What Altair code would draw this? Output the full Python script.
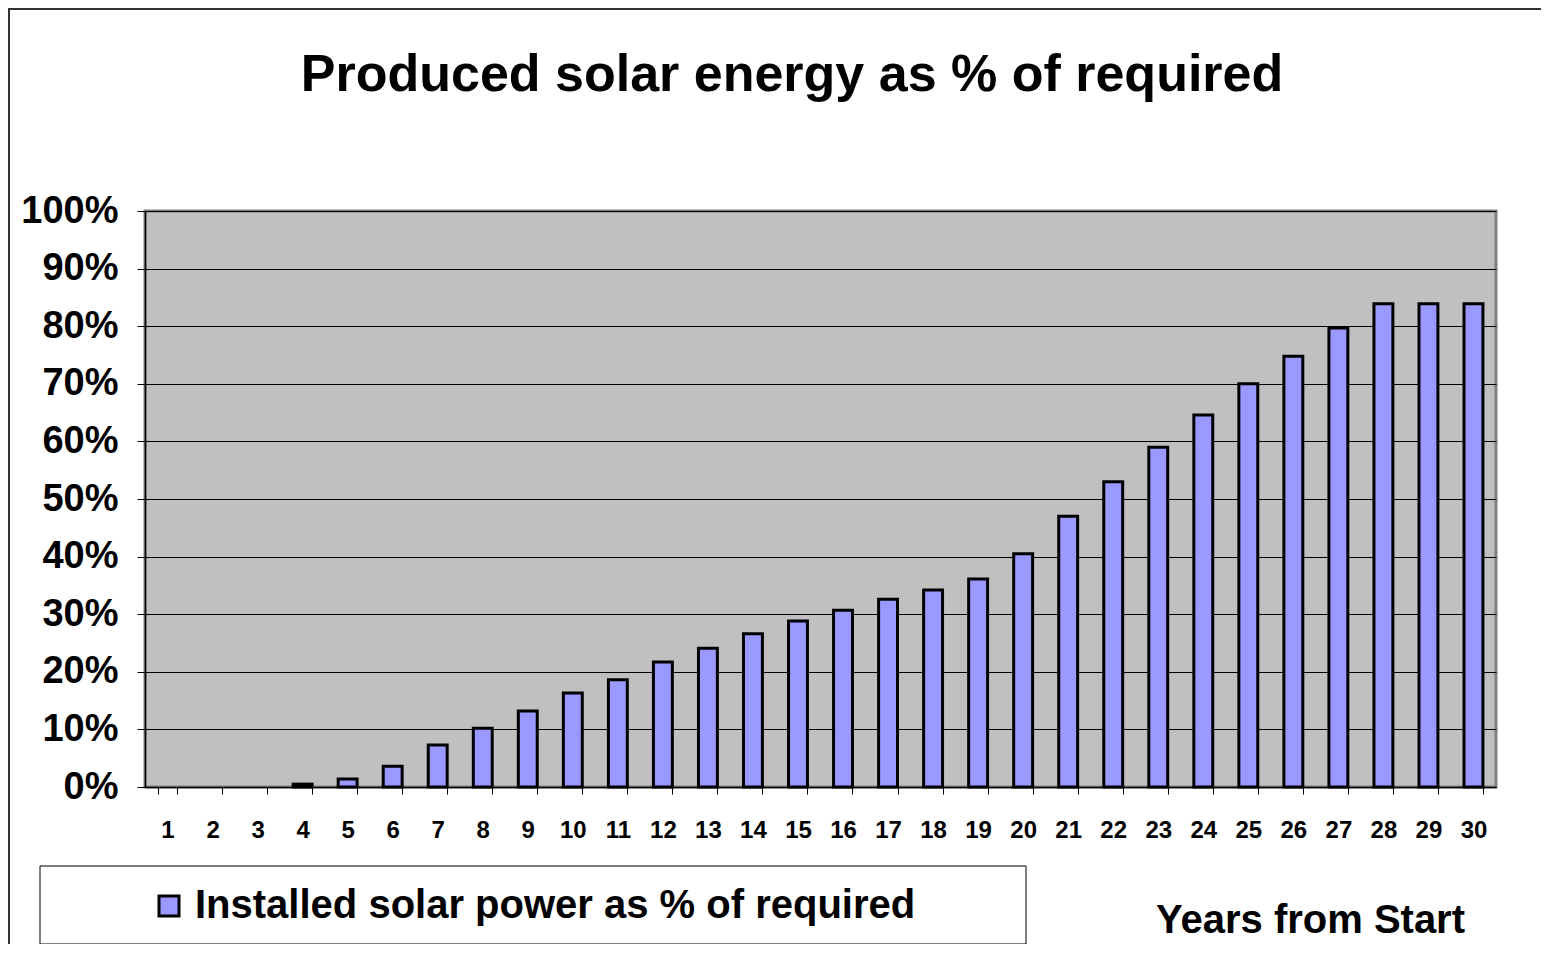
import altair as alt
import pandas as pd

years = list(range(1, 31))
installed_pct = [0.0, 0.0, 0.0, 0.5, 1.4, 3.6, 7.3, 10.2, 13.2, 16.3,
                 18.6, 21.7, 24.1, 26.6, 28.8, 30.7, 32.6, 34.2, 36.1, 40.5,
                 47.0, 53.0, 59.0, 64.6, 70.0, 74.8, 79.7, 83.9, 83.9, 83.9]
series_name = "Installed solar power as % of required"
chart_title = "Produced solar energy as % of required"
y_ticks = [0, 0.1, 0.2, 0.3, 0.4, 0.5, 0.6, 0.7, 0.8, 0.9, 1.0]

df = pd.DataFrame({
    "year": years,
    "value": [v / 100 for v in installed_pct],
    "series": [series_name] * len(years),
})

FONT = "Liberation Sans"
W, H = 1351, 576

bars = alt.Chart(df).mark_bar(strokeWidth=3).encode(
    x=alt.X("year:O",
            scale=alt.Scale(paddingInner=0.58, paddingOuter=0.29),
            axis=alt.Axis(title="Years from Start", labelAngle=0, labelFontSize=24,
                          labelFontWeight="bold", labelColor="black", labelPadding=24,
                          tickBand="extent", tickSize=7, tickColor="black",
                          domainColor="black", domainWidth=1.5, grid=False,
                          titleX=1165, titleY=145, titleAlign="center",
                          titleBaseline="alphabetic", titleFontSize=40,
                          titleFontWeight="bold", titleColor="black")),
    y=alt.Y("value:Q",
            scale=alt.Scale(domain=[0, 1], nice=False),
            axis=alt.Axis(title=None, values=y_ticks, format=".0%", labelFontSize=38,
                          labelFontWeight="bold", labelColor="black", labelPadding=19,
                          tickSize=8, tickColor="black", domainColor="black",
                          domainWidth=1.5, grid=True, gridColor="black", gridWidth=1)),
    stroke=alt.condition(alt.datum.value > 0, alt.value("black"), alt.value("transparent")),
    color=alt.Color("series:N",
                    scale=alt.Scale(range=["#9999FF"]),
                    legend=alt.Legend(title=None, orient="none", legendX=4, legendY=675,
                                      symbolType="square", symbolSize=400,
                                      symbolStrokeColor="black", symbolStrokeWidth=3,
                                      symbolFillColor="#9999FF",
                                      labelFontSize=40, labelFontWeight="bold",
                                      labelColor="black", labelOffset=6, padding=0,
                                      labelLimit=1000)),
)

one = alt.Data(values=[{"k": 1}])

title_text = alt.Chart(one).mark_text(
    text=chart_title, fontSize=52, fontWeight="bold", font=FONT, color="black",
    align="center", baseline="alphabetic"
).encode(x=alt.value(647), y=alt.value(-120))

legend_box = alt.Chart(one).mark_rect(fill="white", stroke="black", strokeWidth=1).encode(
    x=alt.value(-105), x2=alt.value(881), y=alt.value(655), y2=alt.value(733)
)

left_border = alt.Chart(one).mark_rule(color="#333333", strokeWidth=2).encode(
    x=alt.value(-136), y=alt.value(-203), y2=alt.value(740 + 200)
)
top_border = alt.Chart(one).mark_rule(color="#333333", strokeWidth=2).encode(
    x=alt.value(-137), x2=alt.value(W + 60), y=alt.value(-202)
)

chart = alt.layer(legend_box, bars, title_text, left_border, top_border).properties(
    width=W, height=H,
    autosize=alt.AutoSizeParams(type="none"),
    padding={"left": 137, "top": 203, "right": 45, "bottom": 157},
    background="white",
).configure(font=FONT).configure_view(
    fill="#C0C0C0", stroke="#808080", strokeWidth=3
)

chart.save("out.html", embed_options={"renderer": "svg", "actions": False})
